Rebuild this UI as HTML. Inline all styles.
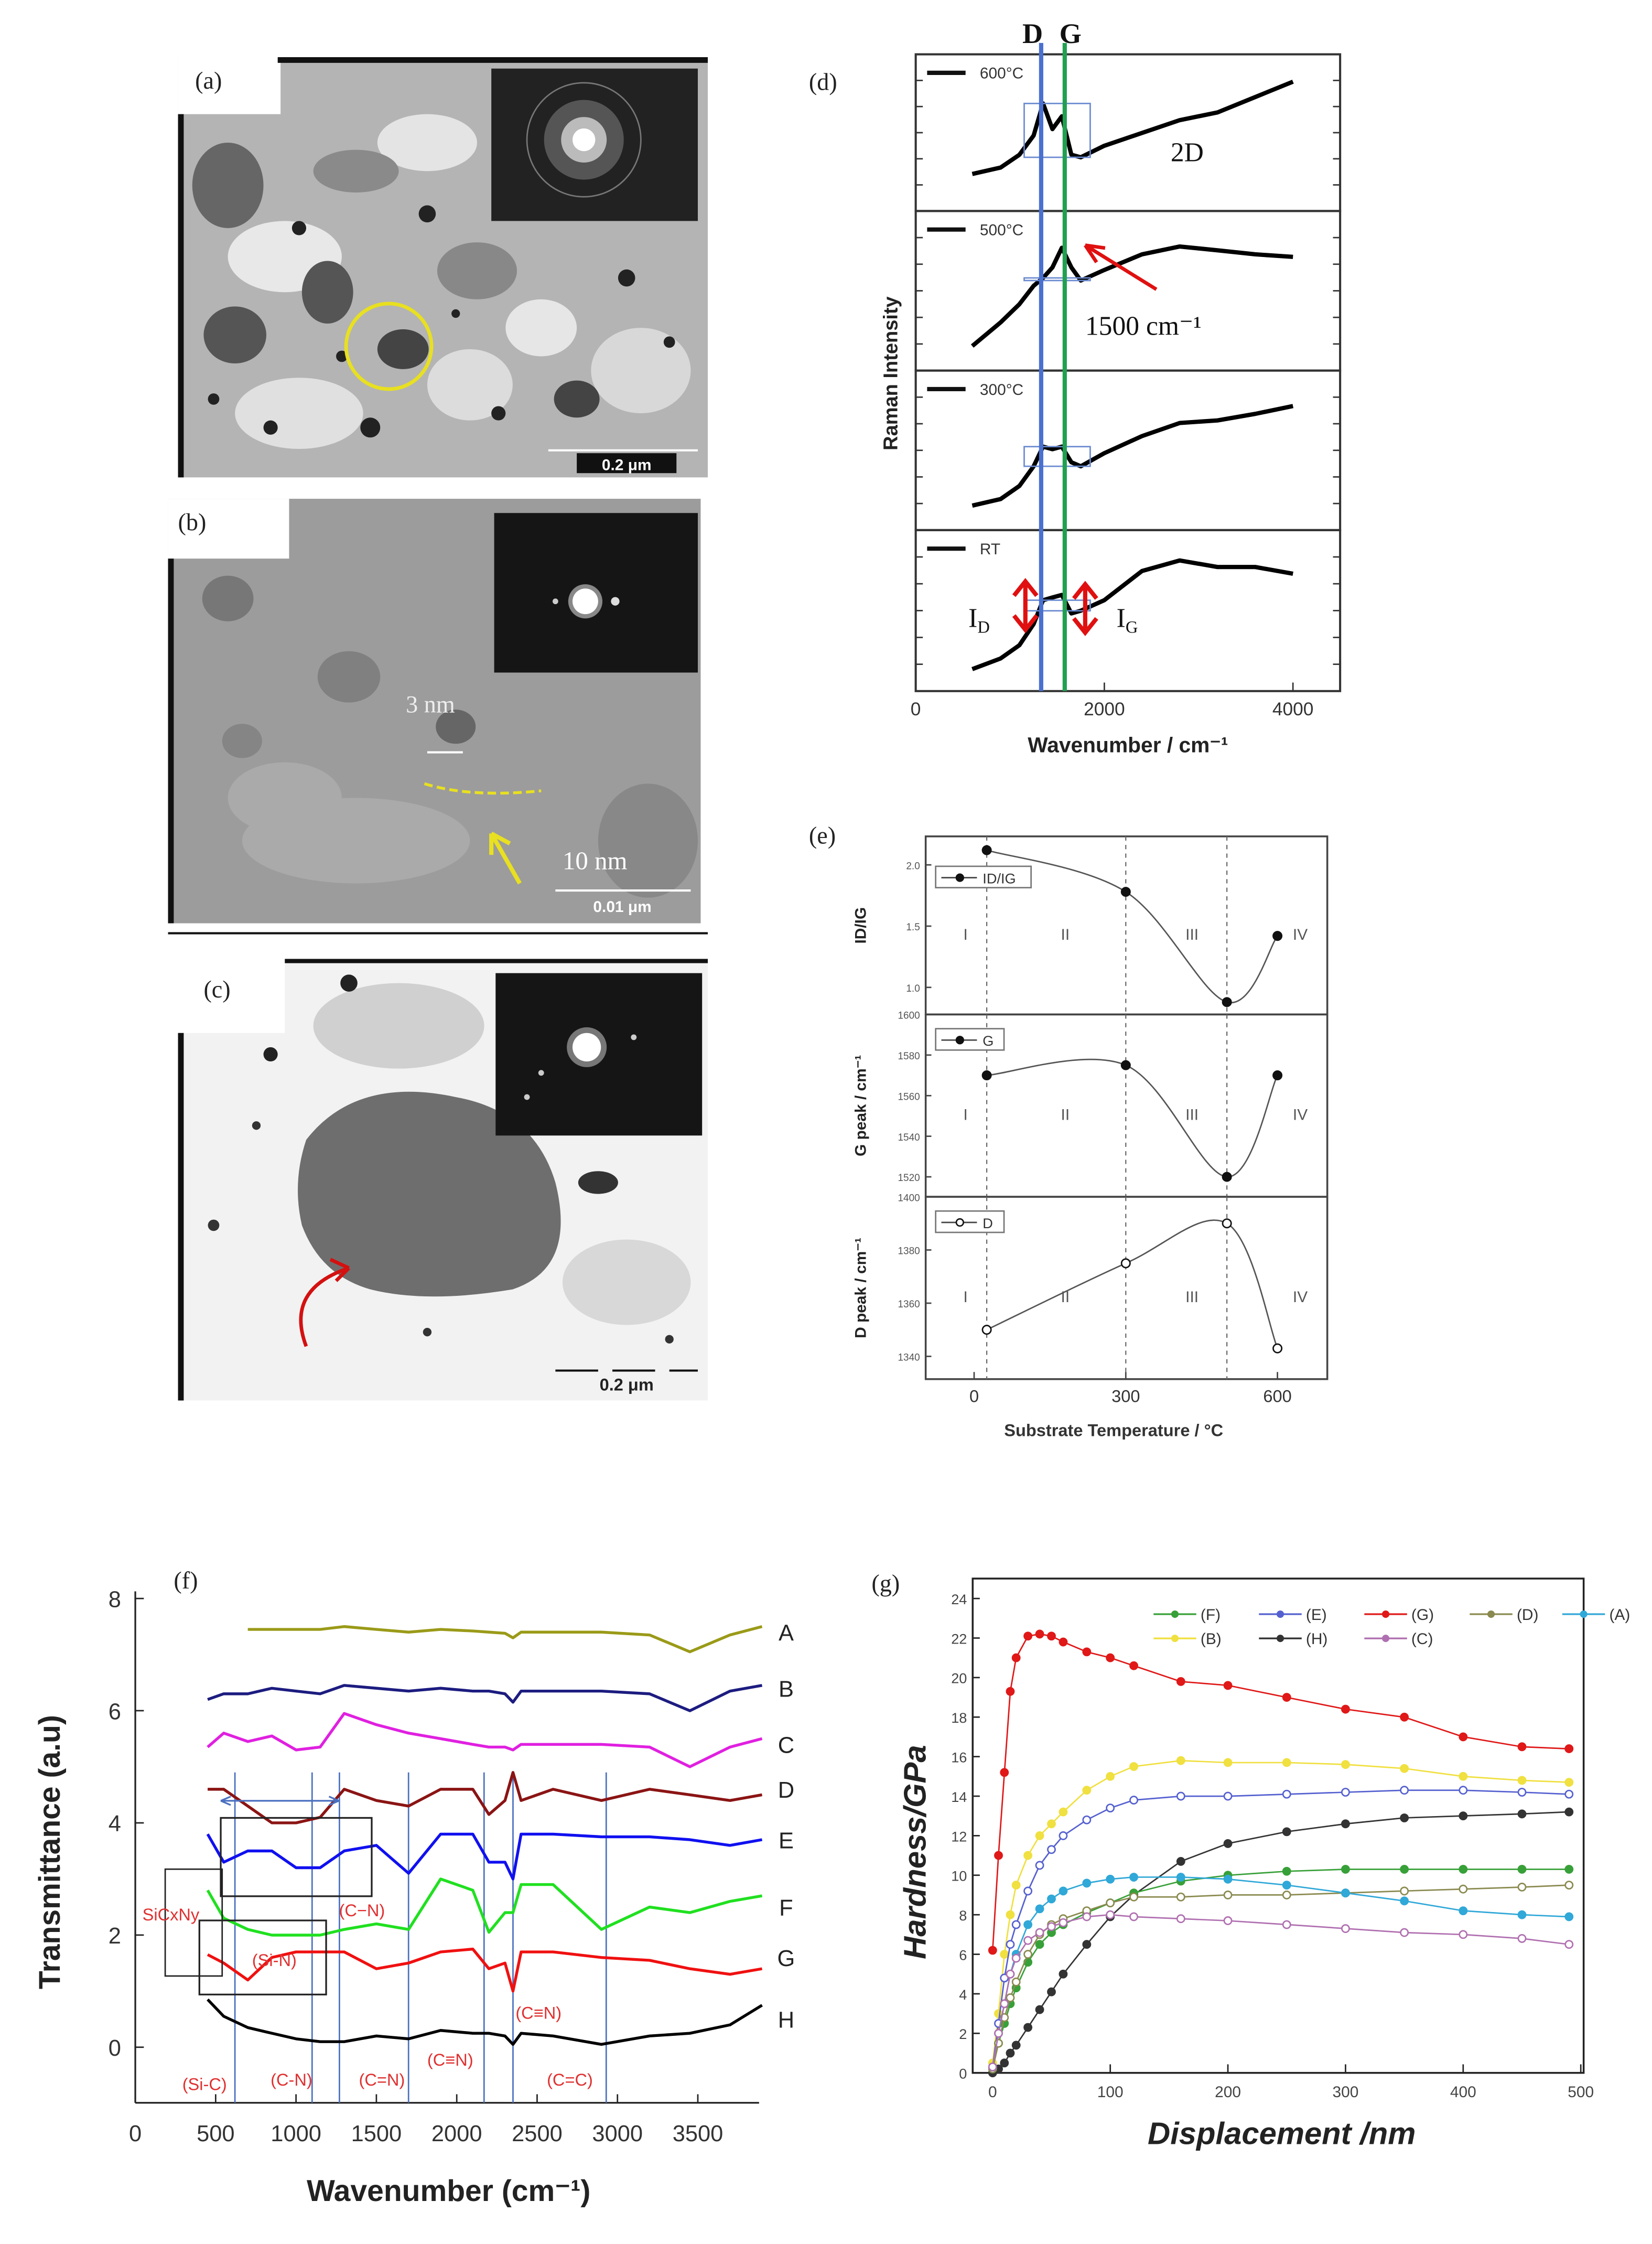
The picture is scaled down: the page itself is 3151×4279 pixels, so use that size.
<!DOCTYPE html>
<html><head><meta charset="utf-8"><style>
html,body{margin:0;padding:0;background:#fff}
svg{display:block}
text{font-family:"Liberation Sans",sans-serif}
.serif{font-family:"Liberation Serif",serif}
</style></head><body>
<svg id="fig" xmlns="http://www.w3.org/2000/svg" width="3151" height="4279" viewBox="0 0 1160 1575">
<rect width="1160" height="1575" fill="#fff"/>

<!-- (a) TEM image -->
<g>
  <rect x="125" y="40" width="372" height="295" fill="#b4b4b4"/>
  <ellipse cx="200" cy="180" rx="40" ry="25" fill="#e8e8e8"/>
  <ellipse cx="300" cy="100" rx="35" ry="20" fill="#e4e4e4"/>
  <ellipse cx="210" cy="290" rx="45" ry="25" fill="#e0e0e0"/>
  <ellipse cx="330" cy="270" rx="30" ry="25" fill="#dcdcdc"/>
  <ellipse cx="450" cy="260" rx="35" ry="30" fill="#d8d8d8"/>
  <ellipse cx="380" cy="230" rx="25" ry="20" fill="#e6e6e6"/>
  <rect x="125" y="40" width="72" height="40" fill="#fff"/>
  <rect x="195" y="40" width="302" height="4" fill="#111"/>
  <rect x="125" y="80" width="4" height="255" fill="#111"/>
  <ellipse cx="160" cy="130" rx="25" ry="30" fill="#666"/>
  <ellipse cx="165" cy="235" rx="22" ry="20" fill="#555"/>
  <ellipse cx="230" cy="205" rx="18" ry="22" fill="#555"/>
  <ellipse cx="283" cy="245" rx="18" ry="14" fill="#444"/>
  <ellipse cx="405" cy="280" rx="16" ry="13" fill="#444"/>
  <ellipse cx="335" cy="190" rx="28" ry="20" fill="#888"/>
  <ellipse cx="250" cy="120" rx="30" ry="15" fill="#8a8a8a"/>
  <circle cx="210" cy="160" r="5" fill="#222"/><circle cx="300" cy="150" r="6" fill="#222"/>
  <circle cx="260" cy="300" r="7" fill="#222"/><circle cx="190" cy="300" r="5" fill="#222"/>
  <circle cx="440" cy="195" r="6" fill="#222"/><circle cx="350" cy="290" r="5" fill="#222"/>
  <circle cx="470" cy="240" r="4" fill="#222"/><circle cx="150" cy="280" r="4" fill="#222"/>
  <circle cx="240" cy="250" r="4" fill="#222"/><circle cx="320" cy="220" r="3" fill="#222"/>
  <circle cx="273" cy="243" r="30" fill="none" stroke="#e8e020" stroke-width="2.5"/>
  <rect x="345" y="48" width="145" height="107" fill="#222"/>
  <circle cx="410" cy="98" r="40" fill="none" stroke="#777" stroke-width="1"/>
  <circle cx="410" cy="98" r="28" fill="#555"/>
  <circle cx="410" cy="98" r="16" fill="#bbb"/>
  <circle cx="410" cy="98" r="8" fill="#fff"/>
  <line x1="385" y1="316" x2="490" y2="316" stroke="#fff" stroke-width="1.5"/>
  <rect x="405" y="318" width="70" height="14" fill="#111"/>
  <text x="440" y="330" font-size="11" font-weight="bold" fill="#fff" text-anchor="middle">0.2 μm</text>
  <text class="serif" x="137" y="62" font-size="17" fill="#222">(a)</text>
</g>

<!-- (b) TEM image -->
<g>
  <rect x="118" y="350" width="374" height="298" fill="#9c9c9c"/>
  <ellipse cx="250" cy="590" rx="80" ry="30" fill="#aaa"/>
  <rect x="118" y="350" width="85" height="42" fill="#fff"/>
  <rect x="118" y="392" width="4" height="256" fill="#111"/>
  <ellipse cx="160" cy="420" rx="18" ry="16" fill="#777"/>
  <ellipse cx="245" cy="475" rx="22" ry="18" fill="#808080"/>
  <ellipse cx="320" cy="510" rx="14" ry="12" fill="#666"/>
  <ellipse cx="455" cy="590" rx="35" ry="40" fill="#888"/>
  <ellipse cx="200" cy="560" rx="40" ry="25" fill="#aaa"/>
  <ellipse cx="170" cy="520" rx="14" ry="12" fill="#858585"/>
  <rect x="347" y="360" width="143" height="112" fill="#151515"/>
  <circle cx="411" cy="422" r="12" fill="#888"/>
  <circle cx="411" cy="422" r="9" fill="#fff"/>
  <circle cx="432" cy="422" r="3" fill="#ddd"/><circle cx="390" cy="422" r="2" fill="#ccc"/>
  <text class="serif" x="285" y="500" font-size="17" fill="#eee">3 nm</text>
  <line x1="300" y1="528" x2="325" y2="528" stroke="#fff" stroke-width="1.5"/>
  <path d="M298 550 Q330 560 380 555" fill="none" stroke="#e8e020" stroke-width="2" stroke-dasharray="6,3"/>
  <path d="M365 620 L345 585 M345 585 L345 600 M345 585 L358 592" fill="none" stroke="#e8e020" stroke-width="3"/>
  <text class="serif" x="395" y="610" font-size="18" fill="#fff">10 nm</text>
  <line x1="390" y1="625" x2="485" y2="625" stroke="#fff" stroke-width="1.5"/>
  <text x="437" y="640" font-size="11" font-weight="bold" fill="#fff" text-anchor="middle">0.01 μm</text>
  <text class="serif" x="125" y="372" font-size="17" fill="#222">(b)</text>
  <line x1="118" y1="655" x2="497" y2="655" stroke="#111" stroke-width="1.5"/>
</g>

<!-- (c) TEM image -->
<g>
  <rect x="125" y="673" width="372" height="310" fill="#f2f2f2"/>
  <ellipse cx="280" cy="720" rx="60" ry="30" fill="#d0d0d0"/>
  <ellipse cx="440" cy="900" rx="45" ry="30" fill="#d8d8d8"/>
  <rect x="125" y="673" width="75" height="52" fill="#fff"/>
  <rect x="125" y="725" width="4" height="258" fill="#111"/>
  <rect x="200" y="673" width="297" height="3" fill="#111"/>
  <path d="M215 800 Q250 755 320 770 Q375 780 390 830 Q405 890 360 905 Q300 915 260 905 Q225 895 212 860 Q205 830 215 800Z" fill="#6e6e6e"/>
  <ellipse cx="420" cy="830" rx="14" ry="8" fill="#333"/>
  <circle cx="190" cy="740" r="5" fill="#222"/><circle cx="245" cy="690" r="6" fill="#222"/>
  <circle cx="150" cy="860" r="4" fill="#333"/><circle cx="180" cy="790" r="3" fill="#333"/>
  <circle cx="300" cy="935" r="3" fill="#333"/><circle cx="470" cy="940" r="3" fill="#333"/>
  <rect x="348" y="683" width="145" height="114" fill="#151515"/>
  <circle cx="412" cy="735" r="14" fill="#777"/>
  <circle cx="412" cy="735" r="10" fill="#fff"/>
  <circle cx="380" cy="753" r="2" fill="#ccc"/><circle cx="445" cy="728" r="2" fill="#ccc"/><circle cx="370" cy="770" r="2" fill="#ccc"/>
  <path d="M215 945 Q200 905 245 890 M245 890 L232 884 M245 890 L236 899" fill="none" stroke="#d41010" stroke-width="2.5"/>
  <line x1="390" y1="962" x2="490" y2="962" stroke="#111" stroke-width="1.5" stroke-dasharray="30,10"/>
  <text x="440" y="976" font-size="12" font-weight="bold" fill="#222" text-anchor="middle">0.2 μm</text>
  <text class="serif" x="143" y="700" font-size="17" fill="#222">(c)</text>
</g>

<g id="pd"></g>
<g id="pe"></g>
<g id="pf"></g>
<g id="pg"></g>
</svg>

<script>
// ---------- Panel d data ----------
const dWave = [600,900,1100,1250,1350,1450,1550,1650,1750,2000,2400,2800,3200,3600,4000];
const d600 = [0.2,0.25,0.35,0.5,0.75,0.55,0.65,0.35,0.33,0.42,0.52,0.62,0.68,0.8,0.92];
const d500 = [0.1,0.28,0.42,0.56,0.62,0.7,0.85,0.7,0.6,0.68,0.8,0.86,0.83,0.8,0.78];
const d300 = [0.1,0.15,0.25,0.4,0.55,0.53,0.55,0.43,0.4,0.5,0.63,0.73,0.75,0.8,0.86];
const dRT = [0.08,0.16,0.26,0.42,0.6,0.62,0.64,0.5,0.52,0.6,0.82,0.9,0.85,0.85,0.8];
const dLabels = ["600°C","500°C","300°C","RT"];
const dTicks = [0,2000,4000];

// ---------- Panel e data ----------
const eTemp = [25,300,500,600];
const eRatio = [2.12,1.78,0.88,1.42];
const eGpeak = [1570,1575,1520,1570];
const eDpeak = [1350,1375,1390,1343];
const eTicks = [0,300,600];

// ---------- Panel f data ----------
const fWave = [450,550,700,850,1000,1150,1300,1500,1700,1900,2100,2200,2300,2350,2400,2600,2900,3200,3450,3700,3900];
const fA = [null,null,7.45,7.45,7.45,7.45,7.5,7.45,7.4,7.45,7.42,7.4,7.38,7.3,7.4,7.4,7.4,7.35,7.05,7.35,7.5];
const fB = [6.2,6.3,6.3,6.4,6.35,6.3,6.45,6.4,6.35,6.4,6.35,6.35,6.3,6.15,6.35,6.35,6.35,6.3,6.0,6.35,6.45];
const fC = [5.35,5.6,5.45,5.55,5.3,5.35,5.95,5.75,5.6,5.5,5.4,5.35,5.35,5.3,5.4,5.4,5.4,5.35,5.0,5.35,5.5];
const fD = [4.6,4.6,4.3,4.0,4.0,4.1,4.6,4.4,4.3,4.6,4.6,4.15,4.4,4.9,4.4,4.6,4.4,4.6,4.5,4.4,4.5];
const fE = [3.8,3.3,3.5,3.5,3.2,3.2,3.5,3.6,3.1,3.8,3.8,3.3,3.3,3.0,3.8,3.8,3.75,3.75,3.7,3.6,3.7];
const fF = [2.8,2.3,2.1,2.0,2.0,2.0,2.1,2.2,2.1,3.0,2.8,2.05,2.4,2.4,2.9,2.9,2.1,2.5,2.4,2.6,2.7];
const fG = [1.65,1.5,1.2,1.6,1.7,1.7,1.7,1.4,1.5,1.7,1.75,1.4,1.5,1.0,1.7,1.7,1.6,1.55,1.4,1.3,1.4];
const fH = [0.85,0.55,0.35,0.25,0.15,0.1,0.1,0.2,0.15,0.3,0.25,0.25,0.2,0.05,0.25,0.2,0.05,0.2,0.25,0.4,0.75];
const fNames = ["A","B","C","D","E","F","G","H"];
const fLabelLevel = [7.4,6.4,5.4,4.6,3.7,2.5,1.6,0.5];
const fXTicks = [0,500,1000,1500,2000,2500,3000,3500];
const fYTicks = [0,2,4,6,8];

// ---------- Panel g data ----------
const gDisp = [0,5,10,15,20,30,40,50,60,80,100,120,160,200,250,300,350,400,450,490];
const gG = [6.2,11,15.2,19.3,21,22.1,22.2,22.1,21.8,21.3,21.0,20.6,19.8,19.6,19.0,18.4,18.0,17.0,16.5,16.4];
const gB = [0.5,3,6,8,9.5,11,12,12.6,13.2,14.3,15.0,15.5,15.8,15.7,15.7,15.6,15.4,15.0,14.8,14.7];
const gE = [0.3,2.5,4.8,6.5,7.5,9.2,10.5,11.3,12.0,12.8,13.4,13.8,14.0,14.0,14.1,14.2,14.3,14.3,14.2,14.1];
const gH = [0,0.2,0.5,1,1.4,2.3,3.2,4.1,5.0,6.5,7.9,9.0,10.7,11.6,12.2,12.6,12.9,13.0,13.1,13.2];
const gF = [0.2,1.5,2.5,3.5,4.3,5.6,6.5,7.1,7.5,8.1,8.6,9.1,9.7,10.0,10.2,10.3,10.3,10.3,10.3,10.3];
const gD = [0.2,1.5,2.8,3.8,4.6,6.0,7.0,7.5,7.8,8.2,8.6,8.9,8.9,9.0,9.0,9.1,9.2,9.3,9.4,9.5];
const gA = [0.3,2,3.5,5,6,7.5,8.3,8.8,9.2,9.6,9.8,9.9,9.9,9.8,9.5,9.1,8.7,8.2,8.0,7.9];
const gC = [0.3,2,3.5,5,5.8,6.7,7.1,7.4,7.6,7.9,8.0,7.9,7.8,7.7,7.5,7.3,7.1,7.0,6.8,6.5];
const gXTicks = [0,100,200,300,400,500];
const gYTicks = [0,2,4,6,8,10,12,14,16,18,20,22,24];

const NS = "http://www.w3.org/2000/svg";
function mk(parent, tag, attrs, txt){
  const e = document.createElementNS(NS, tag);
  for (const k in attrs) e.setAttribute(k, attrs[k]);
  if (txt !== undefined) e.textContent = txt;
  parent.appendChild(e); return e;
}
function pathD(xs, ys, fx, fy){
  let d = "", started = false;
  for (let i=0;i<xs.length;i++){
    if (ys[i]===null || ys[i]===undefined){ started=false; continue; }
    d += (started?"L":"M") + fx(xs[i]).toFixed(1) + " " + fy(ys[i]).toFixed(1) + " ";
    started = true;
  }
  return d;
}
function smoothD(xs, ys, fx, fy){
  const p = xs.map((x,i)=>[fx(x), fy(ys[i])]);
  let d = "M"+p[0][0]+" "+p[0][1];
  for (let i=0;i<p.length-1;i++){
    const p0=p[Math.max(0,i-1)], p1=p[i], p2=p[i+1], p3=p[Math.min(p.length-1,i+2)];
    const c1=[p1[0]+(p2[0]-p0[0])/6, p1[1]+(p2[1]-p0[1])/6];
    const c2=[p2[0]-(p3[0]-p1[0])/6, p2[1]-(p3[1]-p1[1])/6];
    d += ` C${c1[0]} ${c1[1]} ${c2[0]} ${c2[1]} ${p2[0]} ${p2[1]}`;
  }
  return d;
}

// ================= Panel d =================
(function(){
  const g = document.getElementById("pd");
  const L=643, R=941, T=38, B=485;
  const x = w => L + (w/4500)*(R-L);
  const tops = [38,148,260,372], bots = [148,260,372,485];
  const series = [d600,d500,d300,dRT];
  mk(g,"text",{class:"serif",x:568,y:63,"font-size":17,fill:"#222"},"(d)");
  for (let k=0;k<4;k++){
    const t=tops[k], b=bots[k];
    const y = v => b - 8 - v*(b-t-20);
    const r = mk(g,"rect",{x:L,y:t,width:R-L,height:b-t,fill:"none",stroke:"#333","stroke-width":1.5});
    
    
    for (let j=1;j<6;j++){ const yy=t+j*(b-t)/6; mk(g,"line",{x1:L,y1:yy,x2:L+5,y2:yy,stroke:"#333"}); mk(g,"line",{x1:R,y1:yy,x2:R-5,y2:yy,stroke:"#333"}); }
    mk(g,"line",{x1:L+8,y1:t+13,x2:L+35,y2:t+13,stroke:"#111","stroke-width":3});
    mk(g,"text",{x:L+45,y:t+17,"font-size":11,fill:"#333"},dLabels[k]);
    const p = mk(g,"path",{d:pathD(dWave,series[k],x,y),fill:"none",stroke:"#000","stroke-width":3,"stroke-linejoin":"round"});
    
    
    mk(g,"rect",{x:x(1150),y:y(series[k][4]),width:x(1850)-x(1150),height:Math.abs(y(series[k][8])-y(series[k][4])),fill:"none",stroke:"#6a8ad0","stroke-width":1});
  }
  dTicks.forEach(v=>{
    mk(g,"line",{x1:x(v),y1:B,x2:x(v),y2:B-6,stroke:"#333"});
    mk(g,"text",{x:x(v),y:B+17,"font-size":13,fill:"#333","text-anchor":"middle"},String(v));
  });
  mk(g,"line",{x1:x(1330),y1:30,x2:x(1330),y2:B,stroke:"#4a70d0","stroke-width":3,});
  mk(g,"line",{x1:x(1580),y1:30,x2:x(1580),y2:B,stroke:"#20a050","stroke-width":3,});
  mk(g,"text",{class:"serif",x:x(1330)-6,y:30,"font-size":20,"font-weight":"bold",fill:"#111","text-anchor":"middle"},"D");
  mk(g,"text",{class:"serif",x:x(1580)+4,y:30,"font-size":20,"font-weight":"bold",fill:"#111","text-anchor":"middle"},"G");
  mk(g,"text",{class:"serif",x:822,y:113,"font-size":19,fill:"#111"},"2D");
  mk(g,"text",{class:"serif",x:762,y:235,"font-size":19,fill:"#111"},"1500 cm⁻¹");
  mk(g,"path",{d:"M812 203 L762 172 M762 172 L770 184 M762 172 L776 174",fill:"none",stroke:"#e01010","stroke-width":2.5});
  const id = mk(g,"text",{class:"serif",x:680,y:440,"font-size":19,fill:"#111"},"I");
  mk(id,"tspan",{"font-size":12,dy:4},"D");
  const ig = mk(g,"text",{class:"serif",x:784,y:440,"font-size":19,fill:"#111"},"I");
  mk(ig,"tspan",{"font-size":12,dy:4},"G");
  mk(g,"path",{d:"M720 410 L720 440 M712 418 L720 408 L728 418 M712 432 L720 442 L728 432",fill:"none",stroke:"#e01010","stroke-width":3});
  mk(g,"path",{d:"M762 412 L762 442 M754 420 L762 410 L770 420 M754 434 L762 444 L770 434",fill:"none",stroke:"#e01010","stroke-width":3});
  mk(g,"text",{x:630,y:262,"font-size":14,"font-weight":"bold",fill:"#222","text-anchor":"middle",transform:"rotate(-90 630 262)",},"Raman Intensity");
  mk(g,"text",{x:792,y:528,"font-size":15,"font-weight":"bold",fill:"#222","text-anchor":"middle",},"Wavenumber / cm⁻¹");
})();

// ================= Panel e =================
(function(){
  const g = document.getElementById("pe");
  const L=650, R=932;
  const x = t => 684 + (t/600)*(897-684);
  mk(g,"text",{class:"serif",x:568,y:592,"font-size":17,fill:"#222"},"(e)");
  const panels = [
    {t:587,b:712,vals:eRatio,y:v=>693-(v-1.0)*86,ticks:[1.0,1.5,2.0],lab:"ID/IG",leg:"ID/IG",fill:"#111"},
    {t:712,b:840,vals:eGpeak,y:v=>712+(1600-v)*1.425,ticks:[1520,1540,1560,1580,1600],lab:"G peak / cm⁻¹",leg:"G",fill:"#111"},
    {t:840,b:968,vals:eDpeak,y:v=>840+(1400-v)*1.867,ticks:[1340,1360,1380,1400],lab:"D peak / cm⁻¹",leg:"D",fill:"#fff"}
  ];
  panels.forEach((p,k)=>{
    const r = mk(g,"rect",{x:L,y:p.t,width:R-L,height:p.b-p.t,fill:"none",stroke:"#444","stroke-width":1.3});
    
    
    p.ticks.forEach(v=>{ const yy=p.y(v); mk(g,"line",{x1:L,y1:yy,x2:L+4,y2:yy,stroke:"#444"}); mk(g,"text",{x:L-4,y:yy+3,"font-size":7,fill:"#555","text-anchor":"end"},v.toFixed(k===0?1:0)); });
    [25,300,500].forEach(t=>mk(g,"line",{x1:x(t),y1:p.t,x2:x(t),y2:p.b,stroke:"#666","stroke-dasharray":"3,3","stroke-width":0.8}));
    const c = mk(g,"path",{d:smoothD(eTemp,p.vals,x,p.y),fill:"none",stroke:"#555","stroke-width":1});
    
    
    p.vals.forEach((v,i)=>{
      const m = mk(g,"circle",{cx:x(eTemp[i]),cy:p.y(v),r:3,fill:p.fill,stroke:"#111"});
      
      
    });
    mk(g,"rect",{x:L+7,y:p.t+10+(k===0?11:0),width:k===0?67:48,height:15,fill:"#fff",stroke:"#777"});
    mk(g,"line",{x1:L+11,y1:p.t+18+(k===0?11:0),x2:L+36,y2:p.t+18+(k===0?11:0),stroke:"#444"});
    mk(g,"circle",{cx:L+24,cy:p.t+18+(k===0?11:0),r:2.5,fill:p.fill,stroke:"#111"});
    mk(g,"text",{x:L+40,y:p.t+22+(k===0?11:0),"font-size":10,fill:"#333"},p.leg);
    const my = (p.t+p.b)/2 + 10;
    [["I",678],["II",748],["III",837],["IV",913]].forEach(a=>mk(g,"text",{x:a[1],y:my,"font-size":11,fill:"#555","text-anchor":"middle"},a[0]));
    mk(g,"text",{x:608,y:(p.t+p.b)/2,"font-size":11,"font-weight":"bold",fill:"#222","text-anchor":"middle",transform:`rotate(-90 608 ${(p.t+p.b)/2})`},p.lab);
  });
  eTicks.forEach(v=>{ mk(g,"line",{x1:x(v),y1:968,x2:x(v),y2:963,stroke:"#444"}); mk(g,"text",{x:x(v),y:984,"font-size":12,fill:"#333","text-anchor":"middle"},String(v)); });
  mk(g,"text",{x:782,y:1008,"font-size":12,"font-weight":"bold",fill:"#333","text-anchor":"middle",},"Substrate Temperature / °C");
})();

// ================= Panel f =================
(function(){
  const g = document.getElementById("pf");
  const x = w => 95 + w*(395/3500);
  const y = v => 1437 - v*(315/8);
  mk(g,"text",{class:"serif",x:122,y:1115,"font-size":17,fill:"#222"},"(f)");
  mk(g,"line",{x1:95,y1:1117,x2:95,y2:1476,stroke:"#222","stroke-width":1.2});
  mk(g,"line",{x1:95,y1:1476,x2:533,y2:1476,stroke:"#222","stroke-width":1.2});
  fXTicks.forEach(v=>{ mk(g,"line",{x1:x(v),y1:1476,x2:x(v),y2:1470,stroke:"#222"}); mk(g,"text",{x:x(v),y:1503,"font-size":16,fill:"#333","text-anchor":"middle"},String(v)); });
  fYTicks.forEach(v=>{ mk(g,"line",{x1:95,y1:y(v),x2:101,y2:y(v),stroke:"#222"}); mk(g,"text",{x:85,y:y(v)+6,"font-size":16,fill:"#333","text-anchor":"end"},String(v)); });
  const cols = ["#9a9a18","#1c1c80","#e020e0","#8b1414","#1010f0","#20e020","#f01010","#000"];
  const ser = [fA,fB,fC,fD,fE,fF,fG,fH];
  [620,1100,1270,1700,2170,2350,2930].forEach(w=>mk(g,"line",{x1:x(w),y1:y(4.9),x2:x(w),y2:1476,stroke:"#4a70c0","stroke-width":1}));
  ser.forEach((s,i)=>{
    const p = mk(g,"path",{d:pathD(fWave,s,x,y),fill:"none",stroke:cols[i],"stroke-width":2,"stroke-linejoin":"round"});
    
    
    mk(g,"text",{x:552,y:y(fLabelLevel[i])+6,"font-size":16,fill:"#222","text-anchor":"middle"},fNames[i]);
  });
  mk(g,"rect",{x:155,y:1276,width:106,height:55,fill:"none",stroke:"#222","stroke-width":1.2});
  mk(g,"rect",{x:140,y:1348,width:89,height:52,fill:"none",stroke:"#222","stroke-width":1.2});
  mk(g,"rect",{x:116,y:1312,width:40,height:75,fill:"none",stroke:"#222","stroke-width":1});
  mk(g,"path",{d:"M155 1264 L238 1264 M155 1264 l7 -3 M155 1264 l7 3 M238 1264 l-7 -3 M238 1264 l-7 3",fill:"none",stroke:"#4a70c0","stroke-width":1.2});
  const red = {"font-size":12,fill:"#e03030"};
  [["SiCxNy",100,1348],["(C−N)",238,1345],["(Si-N)",177,1380],["(C≡N)",362,1417],["(Si-C)",128,1467],["(C-N)",190,1464],["(C=N)",252,1464],["(C≡N)",300,1450],["(C=C)",384,1464]].forEach(a=>mk(g,"text",Object.assign({x:a[1],y:a[2]},red),a[0]));
  mk(g,"text",{x:42,y:1300,"font-size":21,"font-weight":"bold",fill:"#222","text-anchor":"middle",transform:"rotate(-90 42 1300)",},"Transmittance (a.u)");
  mk(g,"text",{x:315,y:1545,"font-size":21,"font-weight":"bold",fill:"#222","text-anchor":"middle",},"Wavenumber (cm⁻¹)");
})();

// ================= Panel g =================
(function(){
  const g = document.getElementById("pg");
  const L=683, R=1112, T=1108, B=1455;
  const x = d => 697 + d*(413/500);
  const y = v => 1455 - v*(333/24);
  mk(g,"text",{class:"serif",x:612,y:1117,"font-size":17,fill:"#222"},"(g)");
  mk(g,"rect",{x:L,y:T,width:R-L,height:B-T,fill:"none",stroke:"#222","stroke-width":1.3});
  gXTicks.forEach(v=>{ mk(g,"line",{x1:x(v),y1:B,x2:x(v),y2:B-6,stroke:"#222"}); mk(g,"text",{x:x(v),y:B+17,"font-size":11,fill:"#444","text-anchor":"middle"},String(v)); });
  gYTicks.forEach(v=>{ mk(g,"line",{x1:L,y1:y(v),x2:L+5,y2:y(v),stroke:"#222"}); mk(g,"text",{x:L-4,y:y(v)+4,"font-size":10,fill:"#444","text-anchor":"end"},String(v)); });
  const defs = [
    ["(G)",gG,"#e01818","fill"],["(B)",gB,"#f0e040","tri"],["(E)",gE,"#5560d0","open"],
    ["(H)",gH,"#333","x"],["(F)",gF,"#38a038","fill"],["(D)",gD,"#8a8a50","open"],
    ["(A)",gA,"#30a8d8","fill"],["(C)",gC,"#b070b0","open"]
  ];
  defs.forEach(dd=>{
    const p = mk(g,"path",{d:pathD(gDisp,dd[1],x,y),fill:"none",stroke:dd[2],"stroke-width":1});
    
    
    gDisp.forEach((d,i)=>{
      const c = mk(g,"circle",{cx:x(d),cy:y(dd[1][i]),r:2.6,fill:dd[3]==="open"?"#fff":dd[2],stroke:dd[2],"stroke-width":1});
      
      
    });
  });
  const leg = [["(F)","#38a038",810,1133],["(E)","#5560d0",884,1133],["(G)","#e01818",958,1133],["(D)","#8a8a50",1032,1133],["(A)","#30a8d8",1097,1133],["(B)","#f0e040",810,1150],["(H)","#333",884,1150],["(C)","#b070b0",958,1150]];
  leg.forEach(l=>{
    const e = mk(g,"line",{x1:l[2],y1:l[3],x2:l[2]+30,y2:l[3],stroke:l[1],"stroke-width":1.2});
    
    
    mk(g,"circle",{cx:l[2]+15,cy:l[3],r:2.6,fill:l[1]});
    mk(g,"text",{x:l[2]+33,y:l[3]+4,"font-size":11,fill:"#333"},l[0]);
  });
  mk(g,"text",{x:650,y:1300,"font-size":22,"font-weight":"bold","font-style":"italic",fill:"#222","text-anchor":"middle",transform:"rotate(-90 650 1300)",},"Hardness/GPa");
  mk(g,"text",{x:900,y:1505,"font-size":22,"font-weight":"bold","font-style":"italic",fill:"#222","text-anchor":"middle",},"Displacement /nm");
})();
</script>
</body></html>
